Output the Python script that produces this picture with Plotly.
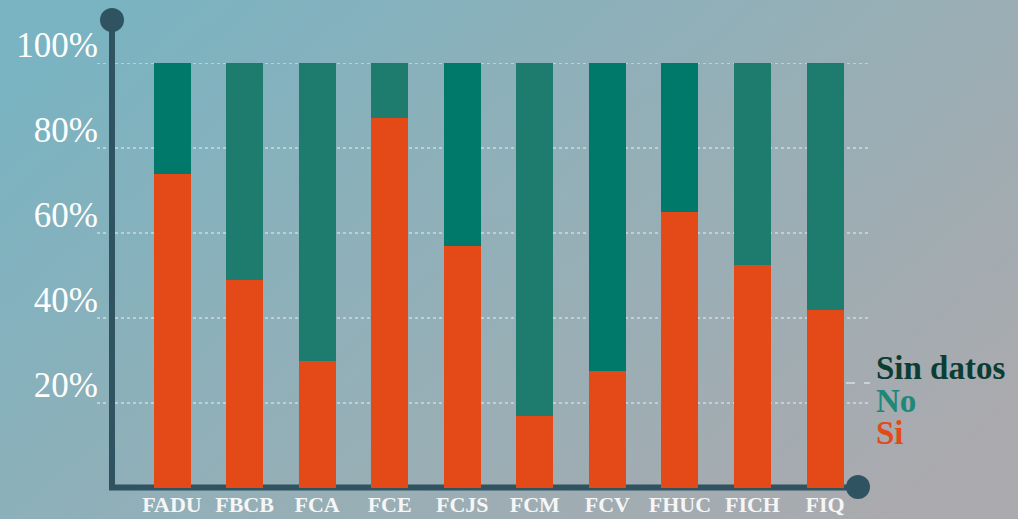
import base64
import plotly.graph_objects as go

categories = ["FADU", "FBCB", "FCA", "FCE", "FCJS", "FCM", "FCV", "FHUC", "FICH", "FIQ"]
si_values = [74, 49, 30, 87, 57, 17, 27.5, 65, 52.5, 42]
no_values = [26, 51, 70, 13, 43, 83, 72.5, 35, 47.5, 58]
sin_datos_values = [0, 0, 0, 0, 0, 0, 0, 0, 0, 0]
no_colors = ["#00796a", "#1e7c6f", "#1e7c6f", "#1e7c6f", "#00796a",
             "#1e7c6f", "#00796a", "#00796a", "#1e7c6f", "#1e7c6f"]
tick_vals = [20, 40, 60, 80, 100]
tick_text = ["20%", "40%", "60%", "80%", "100%"]
legend_items = [("Sin datos", "#0b3d33"), ("No", "#1f8878"), ("Si", "#e34a18")]

SI = "#e34a18"
AXIS = "#2f5361"
SERIF = "Liberation Serif"

W, H = 1018, 519
L, R, T, B = 112, 148, 63, 31
pw, ph = W - L - R, H - T - B

def px(x):
    return (x - L) / pw

def py(y):
    return (H - B - y) / ph

fig = go.Figure()
fig.add_trace(go.Bar(x=categories, y=si_values, name="Si", marker_color=SI,
                     marker_line_width=0, showlegend=False))
fig.add_trace(go.Bar(x=categories, y=no_values, name="No", marker_color=no_colors,
                     marker_line_width=0, showlegend=False))
fig.add_trace(go.Bar(x=categories, y=sin_datos_values, name="Sin datos",
                     marker_color="#0b3d33", marker_line_width=0, showlegend=False))

# background gradient
svg = f'''<svg xmlns="http://www.w3.org/2000/svg" width="{W}" height="{H}">
<defs><linearGradient id="g" x1="0" y1="0.2" x2="1" y2="0.8">
<stop offset="0" stop-color="#7ab3c1"/><stop offset="0.5" stop-color="#94afb7"/>
<stop offset="1" stop-color="#abaaae"/></linearGradient></defs>
<rect width="{W}" height="{H}" fill="url(#g)"/></svg>'''
uri = "data:image/svg+xml;base64," + base64.b64encode(svg.encode()).decode()

shapes = []
for v in tick_vals:
    shapes.append(dict(type="line", xref="paper", yref="y", x0=px(97), x1=px(870),
                       y0=v, y1=v, layer="below",
                       line=dict(color="rgba(225,232,232,0.75)", width=1.5, dash="dot")))
# small dashed marker near legend
shapes.append(dict(type="line", xref="paper", yref="paper", x0=px(846), x1=px(870),
                   y0=py(383), y1=py(383), layer="below",
                   line=dict(color="rgba(225,232,232,0.85)", width=1.5, dash="dash")))
# axes
shapes.append(dict(type="line", xref="paper", yref="paper", x0=px(112), x1=px(112),
                   y0=py(20), y1=py(490), layer="above", line=dict(color=AXIS, width=6)))
shapes.append(dict(type="line", xref="paper", yref="paper", x0=px(109), x1=px(858),
                   y0=py(487.5), y1=py(487.5), layer="below", line=dict(color=AXIS, width=6)))
for cx, cy in [(112, 20), (858, 487)]:
    shapes.append(dict(type="circle", xref="paper", yref="paper", xsizemode="pixel",
                       ysizemode="pixel", xanchor=px(cx), yanchor=py(cy),
                       x0=-12, x1=12, y0=-12, y1=12, fillcolor=AXIS,
                       line=dict(width=0), layer="above"))

legend_text = "<br>".join(
    f'<span style="font-size:33px;color:{c}"><b>{t}</b></span>' for t, c in legend_items)
annotations = [dict(text=legend_text, xref="paper", yref="paper", x=px(874), y=py(348),
                    xanchor="left", yanchor="top", align="left", showarrow=False,
                    font=dict(family=SERIF, size=25, color="#0b3d33"))]

fig.update_layout(
    width=W, height=H,
    margin=dict(l=L, r=R, t=T, b=B, autoexpand=False),
    barmode="stack", bargap=0.49,
    paper_bgcolor="#94afb7", plot_bgcolor="rgba(0,0,0,0)",
    images=[dict(source=uri, xref="paper", yref="paper", x=px(0), y=py(0),
                 sizex=W / pw, sizey=H / ph, xanchor="left", yanchor="top",
                 sizing="stretch", layer="below")],
    shapes=shapes, annotations=annotations,
    xaxis=dict(range=[-0.827, 9.62], showgrid=False, zeroline=False, showline=False,
               automargin=False,
               ticks="", tickfont=dict(family=SERIF, size=22, color="#f6f6f6"),
               tickprefix="<b>", ticksuffix="</b>", ticklabelstandoff=1),
    yaxis=dict(range=[0, 100], showgrid=False, zeroline=False, showline=False,
               automargin=False,
               tickvals=tick_vals, ticktext=tick_text, ticks="",
               tickfont=dict(family=SERIF, size=35, color="white"),
               ticklabelshift=-18, ticklabelstandoff=13),
)

fig.write_html("out.html", config={"displayModeBar": False},
               post_script="document.body.style.margin='0';")
